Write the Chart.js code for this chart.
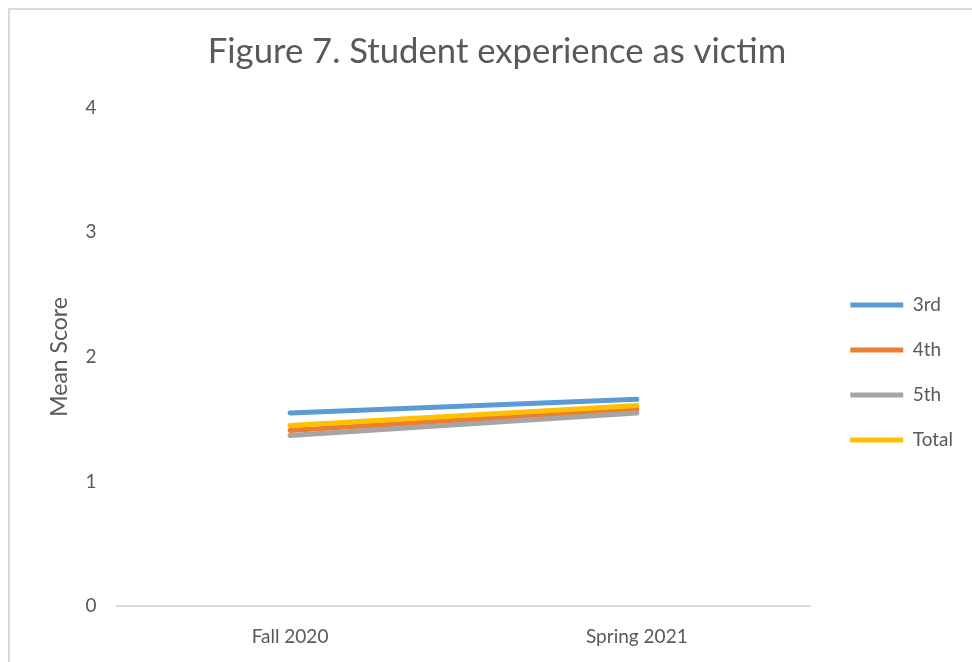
<!DOCTYPE html>
<html>
<head>
<meta charset="utf-8">
<script src="https://cdn.jsdelivr.net/npm/chart.js@4/dist/chart.umd.min.js"></script>
<style>
  html, body { margin: 0; padding: 0; background: #fff; overflow: hidden; }
  #frame {
    position: absolute; left: 8px; top: 8px;
    width: 970px; height: 670px;
    border-left: 2px solid #d9d9d9; border-top: 2px solid #d9d9d9;
  }
  #wrap { position: absolute; left: 0; top: 0; width: 962px; height: 658px; }
</style>
</head>
<body>
<div id="frame"><div id="wrap"><canvas id="victimChart"></canvas></div></div>
<script>
const terms = ['Fall 2020', 'Spring 2021'];
const grade3 = [1.55, 1.66];
const grade4 = [1.41, 1.58];
const grade5 = [1.37, 1.55];
const total = [1.45, 1.61];
const yTicks = [0, 1, 2, 3, 4];

const textColor = '#595959';
const fontFamily = 'Lato, "Open Sans", sans-serif';

function series(label, data, color, order) {
    return {
        label: label,
        data: data,
        borderColor: color,
        backgroundColor: color,
        borderWidth: 5,
        borderCapStyle: 'round',
        pointRadius: 0,
        pointHoverRadius: 0,
        tension: 0,
        fill: false,
        order: order
    };
}

window.onload = function () {
    const ctx = document.getElementById('victimChart').getContext('2d');
    new Chart(ctx, {
        type: 'line',
        data: {
            labels: terms,
            datasets: [
                series('3rd', grade3, '#5B9BD5', 3),
                series('4th', grade4, '#ED7D31', 2),
                series('5th', grade5, '#A5A5A5', 1),
                series('Total', total, '#FFC000', 0)
            ]
        },
        options: {
            responsive: true,
            maintainAspectRatio: false,
            animation: false,
            layout: { padding: { left: 21, right: 9, top: 10, bottom: 1 } },
            plugins: {
                title: {
                    display: true,
                    text: 'Figure 7. Student experience as victim',
                    color: textColor,
                    font: { family: fontFamily, size: 34.7, weight: 'normal' },
                    padding: { top: 11, bottom: 35 }
                },
                legend: {
                    position: 'right',
                    // blank title nudges the legend block below centre
                    title: { display: true, text: ' ', font: { size: 10 }, padding: 23 },
                    labels: {
                        color: textColor,
                        font: { family: fontFamily, size: 19 },
                        usePointStyle: true,
                        pointStyle: 'line',
                        pointStyleWidth: 53,
                        boxHeight: 5,
                        padding: 26,
                        sort: (a, b) => a.datasetIndex - b.datasetIndex
                    }
                },
                tooltip: { enabled: false }
            },
            scales: {
                x: {
                    offset: true,
                    grid: { display: false, drawTicks: false },
                    border: { display: true, color: '#d9d9d9', width: 2 },
                    ticks: {
                        color: textColor,
                        font: { family: fontFamily, size: 19 },
                        padding: 19
                    }
                },
                y: {
                    min: 0,
                    max: 4,
                    afterBuildTicks: (axis) => { axis.ticks = yTicks.map(v => ({ value: v })); },
                    grid: { display: false, drawTicks: false },
                    border: { display: false },
                    title: {
                        display: true,
                        text: 'Mean Score',
                        color: textColor,
                        font: { family: fontFamily, size: 23 },
                        padding: { top: 15, bottom: -8 }
                    },
                    ticks: {
                        color: textColor,
                        font: { family: fontFamily, size: 19 },
                        padding: 20
                    }
                },
                // empty gap between the plot and the legend
                gap: {
                    type: 'linear',
                    position: 'right',
                    display: true,
                    grid: { display: false },
                    border: { display: false },
                    ticks: { display: false },
                    afterFit: (axis) => { axis.width = 14; }
                }
            }
        }
    });
};
</script>
</body>
</html>
